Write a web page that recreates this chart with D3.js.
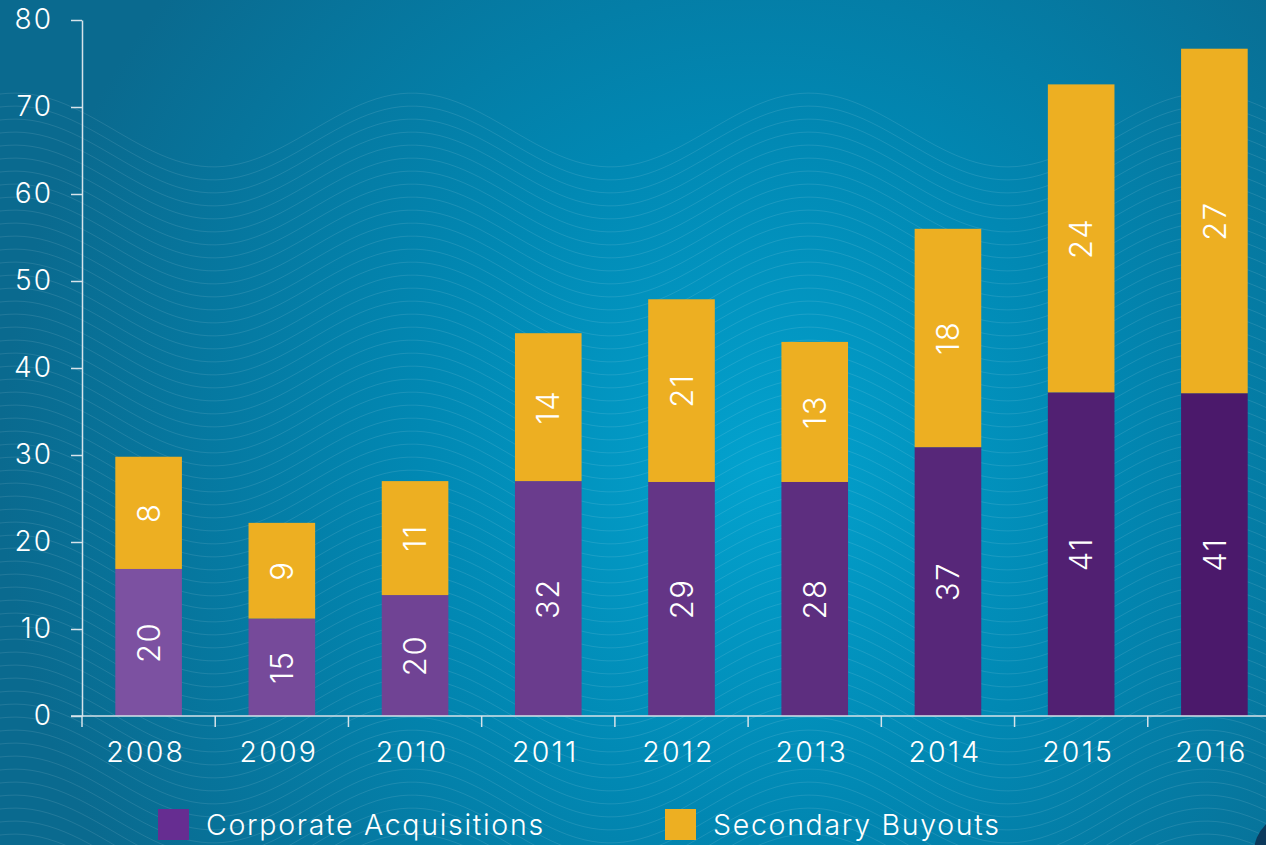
<!DOCTYPE html>
<html>
<head>
<meta charset="utf-8">
<script src="https://cdn.jsdelivr.net/npm/d3@7"></script>
<style>
  html, body { margin: 0; padding: 0; background: #0a7aa2; }
  svg { display: block; font-family: Inter, Lato, "Open Sans", sans-serif; }
</style>
</head>
<body>
<svg id="chart"></svg>
<script>
// chart data (bar heights as drawn, plus the printed labels)
var years = ["2008", "2009", "2010", "2011", "2012", "2013", "2014", "2015", "2016"];
var corporate = [16.9, 11.2, 13.9, 27.0, 26.9, 26.9, 30.9, 37.2, 37.1];
var secondary = [12.9, 11.0, 13.1, 17.0, 21.0, 16.1, 25.1, 35.4, 39.6];
var corporateLabels = ["20", "15", "20", "32", "29", "28", "37", "41", "41"];
var secondaryLabels = ["8", "9", "11", "14", "21", "13", "18", "24", "27"];
var yTicks = [0, 10, 20, 30, 40, 50, 60, 70, 80];
var seriesNames = ["Corporate Acquisitions", "Secondary Buyouts"];

function createStackedChart() {
    var width = 1266, height = 845;
    var purpleLight = "#7c51a1", purpleDark = "#4b196b", yellow = "#edaf22";

    var svg = d3.select("#chart")
        .attr("width", width)
        .attr("height", height);

    // background gradient
    var defs = svg.append("defs");
    var grad = defs.append("radialGradient")
        .attr("id", "bg")
        .attr("gradientUnits", "userSpaceOnUse")
        .attr("cx", 760).attr("cy", 470).attr("r", 760);
    grad.append("stop").attr("offset", "0%").attr("stop-color", "#03a2ce");
    grad.append("stop").attr("offset", "45%").attr("stop-color", "#0188b3");
    grad.append("stop").attr("offset", "100%").attr("stop-color", "#0a6a8f");

    svg.append("rect")
        .attr("width", width)
        .attr("height", height)
        .attr("fill", "url(#bg)");

    // faint wavy lines in the background
    var wave = d3.line().curve(d3.curveBasis);
    var waves = svg.append("g")
        .attr("fill", "none")
        .attr("stroke", "#ffffff")
        .attr("stroke-opacity", 0.1)
        .attr("stroke-width", 1);
    for (var i = 0; i < 62; i++) {
        var pts = d3.range(0, width + 8, 8).map(function(px) {
            return [px, 130 + i * 13 - 37 * Math.cos(2 * Math.PI * (px - 15) / 397)];
        });
        waves.append("path").attr("d", wave(pts));
    }

    // scales
    var x = d3.scaleBand()
        .domain(years)
        .range([82, 1281])
        .paddingInner(0.5)
        .paddingOuter(0.25);
    var y = d3.scaleLinear()
        .domain([0, 80])
        .range([716, 20]);
    var purple = d3.scaleLinear()
        .domain([0, years.length - 1])
        .range([purpleLight, purpleDark]);

    var rows = years.map(function(yr, i) {
        return {year: yr, corporate: corporate[i], secondary: secondary[i],
                cLabel: corporateLabels[i], sLabel: secondaryLabels[i], idx: i};
    });

    var axisColor = "#d6e3ea";

    // y axis
    var yAxis = svg.append("g")
        .attr("transform", "translate(82,0)")
        .call(d3.axisLeft(y).tickValues(yTicks).tickSize(11).tickSizeOuter(0).tickPadding(18));
    yAxis.select(".domain").attr("stroke", axisColor).attr("stroke-width", 1.5);
    yAxis.selectAll(".tick line").attr("stroke", axisColor).attr("stroke-width", 1.5);
    yAxis.selectAll(".tick text")
        .attr("fill", "#ffffff")
        .attr("font-size", 28)
        .attr("font-weight", 300)
        .attr("font-family", "Inter, Lato, sans-serif")
        .attr("letter-spacing", 2);

    // bars
    var bars = svg.append("g");
    bars.selectAll(".bar-c")
        .data(rows)
        .enter().append("rect")
        .attr("class", "bar-c")
        .attr("x", function(d) { return x(d.year); })
        .attr("width", x.bandwidth())
        .attr("y", function(d) { return y(d.corporate); })
        .attr("height", function(d) { return y(0) - y(d.corporate); })
        .attr("fill", function(d) { return purple(d.idx); });

    bars.selectAll(".bar-s")
        .data(rows)
        .enter().append("rect")
        .attr("class", "bar-s")
        .attr("x", function(d) { return x(d.year); })
        .attr("width", x.bandwidth())
        .attr("y", function(d) { return y(d.corporate + d.secondary); })
        .attr("height", function(d) { return y(d.corporate) - y(d.corporate + d.secondary); })
        .attr("fill", yellow);

    // rotated labels inside bars
    function addLabels(cls, midFn, textFn) {
        bars.selectAll("." + cls)
            .data(rows)
            .enter().append("text")
            .attr("class", cls)
            .attr("transform", function(d) {
                return "translate(" + (x(d.year) + x.bandwidth() / 2) + "," + midFn(d) + ") rotate(-90)";
            })
            .attr("text-anchor", "middle")
            .attr("dy", "0.36em")
            .attr("fill", "#ffffff")
            .attr("font-size", 31)
            .attr("font-weight", 300)
            .attr("letter-spacing", 1.5)
            .text(textFn);
    }
    addLabels("lab-c", function(d) { return (y(0) + y(d.corporate)) / 2; },
        function(d) { return d.cLabel; });
    addLabels("lab-s", function(d) { return (y(d.corporate) + y(d.corporate + d.secondary)) / 2; },
        function(d) { return d.sLabel; });

    // x axis
    var xAxis = svg.append("g")
        .attr("transform", "translate(0,716)")
        .call(d3.axisBottom(x).tickSize(0).tickSizeOuter(0).tickPadding(26));
    xAxis.select(".domain")
        .attr("d", "M71,0H" + width)
        .attr("stroke", axisColor).attr("stroke-width", 1.5);
    xAxis.selectAll(".tick text")
        .attr("fill", "#ffffff")
        .attr("font-size", 28.5)
        .attr("font-weight", 300)
        .attr("font-family", "Inter, Lato, sans-serif")
        .attr("letter-spacing", 2.2)
        .attr("dx", -3);

    // separators between the bands
    xAxis.selectAll(".sep")
        .data(years)
        .enter().append("line")
        .attr("class", "sep")
        .attr("x1", function(d) { return x(d) - x.step() * 0.25; })
        .attr("x2", function(d) { return x(d) - x.step() * 0.25; })
        .attr("y1", 0)
        .attr("y2", 11)
        .attr("stroke", axisColor)
        .attr("stroke-width", 1.5);

    // legend
    var legendX = [158, 665];
    var legendColors = ["#662d91", yellow];
    var legend = svg.append("g");
    seriesNames.forEach(function(name, i) {
        legend.append("rect")
            .attr("x", legendX[i])
            .attr("y", 809)
            .attr("width", 31)
            .attr("height", 31)
            .attr("fill", legendColors[i]);
        legend.append("text")
            .attr("x", legendX[i] + 48)
            .attr("y", 835)
            .attr("fill", "#ffffff")
            .attr("font-size", 28.5)
            .attr("font-weight", 300)
            .attr("letter-spacing", 1.7)
            .text(name);
    });

    // bit of the logo peeking in at the corner
    svg.append("circle")
        .attr("cx", 1292)
        .attr("cy", 852)
        .attr("r", 38)
        .attr("fill", "#0c3a5c");
}

createStackedChart();
</script>
</body>
</html>
